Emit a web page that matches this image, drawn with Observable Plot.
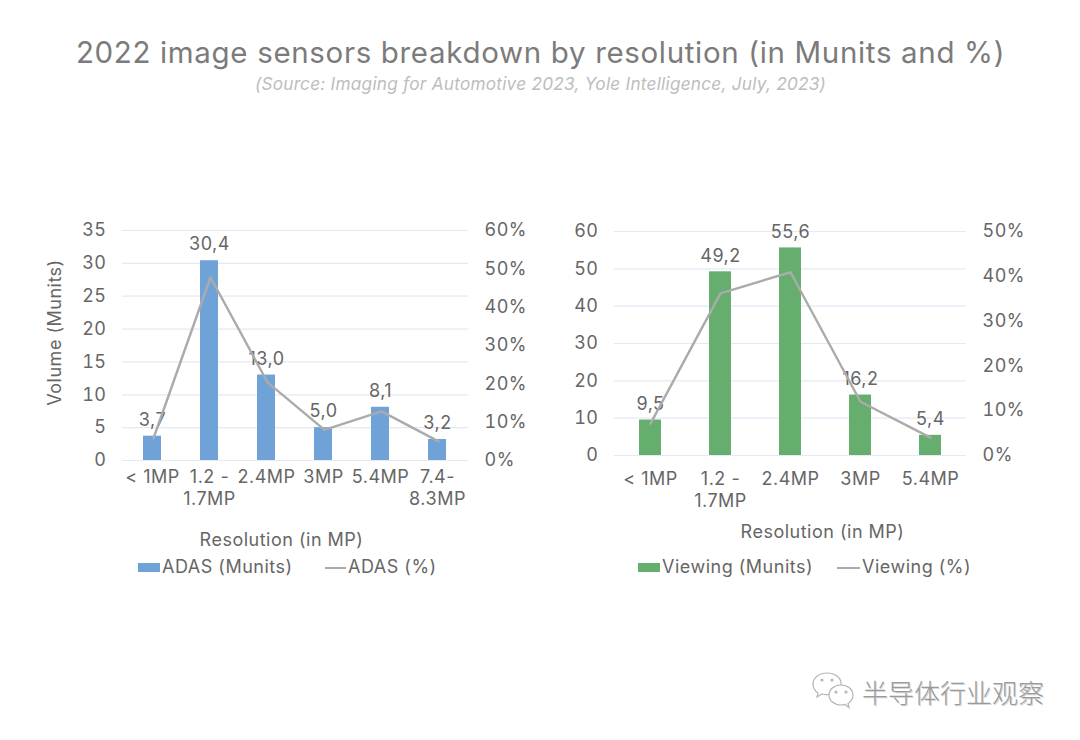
<!DOCTYPE html>
<html>
<head>
<meta charset="utf-8">
<script src="https://cdn.jsdelivr.net/npm/d3@7"></script>
<script src="https://cdn.jsdelivr.net/npm/@observablehq/plot@0.6"></script>
<style>
  html, body { margin: 0; padding: 0; background: #fff; }
  #page { position: relative; width: 1080px; height: 740px; overflow: hidden; font-family: Inter, sans-serif; color: #666; }
  #page svg.plot { position: absolute; }
  .abs { position: absolute; white-space: nowrap; }
  #title { left: 0; width: 1081px; top: 33px; text-align: center; font-size: 29.5px; letter-spacing: 0.66px; line-height: 38px; color: #7b7b7b; font-weight: 400; }
  #subtitle { left: 0; width: 1081px; top: 74px; text-align: center; font-size: 17.2px; letter-spacing: 0.25px; line-height: 20px; color: #bdbdbd; font-style: italic; }
  .legend { font-size: 18px; letter-spacing: 0.5px; line-height: 22px; color: #666; }
  #wm { left: 862px; top: 674px; font-family: "Noto Sans CJK SC", sans-serif; font-size: 26px; line-height: 36px; color: #9a9a9a; font-weight: 300; text-shadow: 1px 1px 0 #d8d8d8; }
</style>
</head>
<body>
<div id="page">
  <div id="title" class="abs">2022 image sensors breakdown by resolution (in Munits and %)</div>
  <div id="subtitle" class="abs">(Source: Imaging for Automotive 2023, Yole Intelligence, July, 2023)</div>
  <svg class="abs" style="left:810px;top:670px" width="48" height="40" viewBox="0 0 48 40" fill="#fff" stroke="#b5b5b5" stroke-width="1.2">
    <path d="M17 3C9 3 3 8 3 14c0 4 2 7 5 9l-1 4 5-3c2 .5 3 .6 5 .6 8 0 14-5 14-11S25 3 17 3z"/>
    <path d="M31 15c-7 0-12 4.500-12 10s5 10 12 10c1.500 0 3-.2 4-.6l4 3-1-4c3-2 5-5 5-8.400 0-5.500-5-10-12-10z"/>
    <circle cx="12" cy="10" r="1" fill="#b5b5b5"/><circle cx="22" cy="10" r="1" fill="#b5b5b5"/>
    <circle cx="26" cy="22" r="1" fill="#b5b5b5"/><circle cx="36" cy="22" r="1" fill="#b5b5b5"/>
  </svg>
  <div id="wm" class="abs">半导体行业观察</div>
</div>
<script>
const adasCategories = ["< 1MP", "1.2 -\n1.7MP", "2.4MP", "3MP", "5.4MP", "7.4-\n8.3MP"];
const adasUnits = [3.7, 30.4, 13.0, 5.0, 8.1, 3.2];
const adasPct = [5.8, 47.8, 20.4, 8.0, 12.8, 5.0];
const adasUnitTicks = [0, 5, 10, 15, 20, 25, 30, 35];
const adasPctTicks = [0, 10, 20, 30, 40, 50, 60];

const viewCategories = ["< 1MP", "1.2 -\n1.7MP", "2.4MP", "3MP", "5.4MP"];
const viewUnits = [9.5, 49.2, 55.6, 16.2, 5.4];
const viewPct = [7.1, 36.2, 40.9, 12.0, 4.0];
const viewUnitTicks = [0, 10, 20, 30, 40, 50, 60];
const viewPctTicks = [0, 10, 20, 30, 40, 50];

const xTitle = "Resolution (in MP)";
const yTitle = "Volume (Munits)";
const gray = "#666666", gridColor = "#e6e8f6", lineColor = "#ababab";
const fontSize = 18;
const font = "Inter, sans-serif";

function panel(cfg) {
  const page = document.getElementById("page");
  const W = cfg.width, H = cfg.height;
  const common = {
    width: W, height: H,
    marginLeft: cfg.ml, marginRight: cfg.mr, marginTop: cfg.mt, marginBottom: cfg.mb,
    style: {background: "transparent", fontFamily: font, fontSize: fontSize + "px", letterSpacing: "0.5px", overflow: "visible"}
  };
  const rows = cfg.categories.map((c, i) => ({c, u: cfg.units[i], p: cfg.pct[i]}));
  const bars = Plot.plot({
    ...common,
    x: {type: "band", domain: cfg.categories, paddingInner: 0.68, paddingOuter: 0.34, align: 0.5, axis: null},
    y: {domain: [cfg.unitTicks[0], cfg.unitTicks[cfg.unitTicks.length - 1]], axis: null},
    marks: [
      Plot.gridY(cfg.unitTicks, {stroke: gridColor, strokeOpacity: 1, strokeWidth: 1.2}),
      Plot.axisY({ticks: cfg.unitTicks, tickSize: 0, tickPadding: 16, label: null, fill: gray, fontSize}),
      Plot.axisX({domain: cfg.categories, tickSize: 0, tickPadding: cfg.xPad, label: null, fill: gray, fontSize, lineHeight: 1.17, tickFormat: d => d}),
      Plot.barY(rows, {x: "c", y: "u", fill: cfg.color}),
      Plot.text(rows, {x: "c", y: "u", text: d => d3.format(".1f")(d.u).replace(".", ","), dy: -16, fill: gray, fontSize}),
      Plot.text([xTitle], {frameAnchor: "bottom", dx: cfg.xTitleDx, dy: cfg.xTitleDy, fill: gray, fontSize}),
      ...(cfg.yLabel ? [Plot.text([yTitle], {frameAnchor: "left", textAnchor: "middle", rotate: -90, dx: cfg.yLabelDx, dy: cfg.yLabelDy, fill: gray, fontSize})] : [])
    ]
  });
  const lines = Plot.plot({
    ...common,
    x: {type: "point", domain: cfg.categories, padding: 0.5, align: 0.5, axis: null},
    y: {domain: [cfg.pctTicks[0], cfg.pctTicks[cfg.pctTicks.length - 1]], axis: null},
    marks: [
      Plot.axisY({anchor: "right", ticks: cfg.pctTicks, tickSize: 0, tickPadding: 16, label: null, fill: gray, fontSize, tickFormat: d => d + "%"}),
      Plot.line(rows, {x: "c", y: "p", stroke: lineColor, strokeWidth: 2.4, curve: "linear"})
    ]
  });
  for (const svg of [bars, lines]) {
    svg.classList.add("plot");
    svg.style.left = cfg.left + "px";
    svg.style.top = cfg.top + "px";
    page.appendChild(svg);
  }
  // legend
  const sw = document.createElement("div");
  sw.className = "abs";
  sw.style.cssText = `left:${cfg.swatchX}px;top:563px;width:${cfg.swatchW}px;height:9px;background:${cfg.color}`;
  page.appendChild(sw);
  const ln = document.createElement("div");
  ln.className = "abs";
  ln.style.cssText = `left:${cfg.lineX}px;top:566.5px;width:${cfg.lineW}px;height:2px;background:${lineColor}`;
  page.appendChild(ln);
  for (const [txt, x] of [[cfg.legend[0], cfg.legendX[0]], [cfg.legend[1], cfg.legendX[1]]]) {
    const t = document.createElement("div");
    t.className = "abs legend";
    t.style.cssText = `left:${x}px;top:556px`;
    t.textContent = txt;
    page.appendChild(t);
  }
}

panel({
  categories: adasCategories, units: adasUnits, pct: adasPct,
  unitTicks: adasUnitTicks, pctTicks: adasPctTicks, color: "#6fa3d8",
  left: 30, top: 210, width: 510, height: 350, ml: 92, mr: 72, mt: 20, mb: 100,
  xPad: 8, xTitleDx: -14, xTitleDy: 85, yLabel: true, yLabelDx: -67, yLabelDy: -13,
  swatchX: 138, swatchW: 22, lineX: 325, lineW: 21, legend: ["ADAS (Munits)", "ADAS (%)"], legendX: [162, 348]
});
panel({
  categories: viewCategories, units: viewUnits, pct: viewPct,
  unitTicks: viewUnitTicks, pctTicks: viewPctTicks, color: "#65ae6e",
  left: 560, top: 210, width: 510, height: 350, ml: 54, mr: 104, mt: 21, mb: 105,
  xPad: 15, xTitleDx: 32, xTitleDy: 82, yLabel: false,
  swatchX: 638, swatchW: 22, lineX: 837, lineW: 23, legend: ["Viewing (Munits)", "Viewing (%)"], legendX: [662, 862]
});
</script>
</body>
</html>
